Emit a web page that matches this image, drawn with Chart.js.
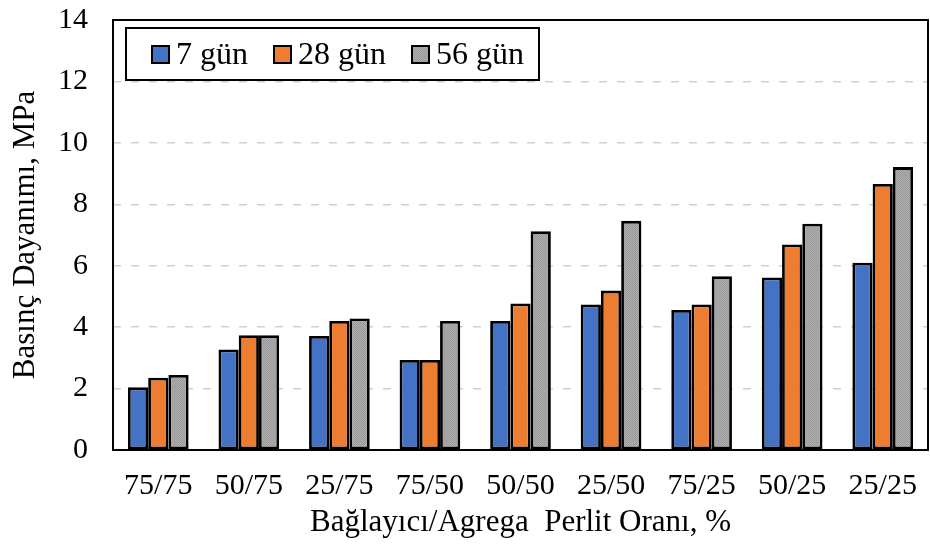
<!DOCTYPE html>
<html>
<head>
<meta charset="utf-8">
<script src="https://cdn.jsdelivr.net/npm/chart.js@4.4.0/dist/chart.umd.min.js"></script>
<style>
  html, body { margin: 0; padding: 0; background: #fff; }
  #wrap { width: 930px; height: 556px; }
</style>
</head>
<body>
<div id="wrap"><canvas id="chart" width="930" height="556"></canvas></div>
<script>
// values (MPa)
const categories = ['75/75', '50/75', '25/75', '75/50', '50/50', '25/50', '75/25', '50/25', '25/25'];
const gun7  = [2.04, 3.27, 3.71, 2.93, 4.20, 4.74, 4.56, 5.62, 6.10];
const gun28 = [2.35, 3.74, 4.20, 2.93, 4.77, 5.19, 4.74, 6.69, 8.66];
const gun56 = [2.44, 3.74, 4.28, 4.20, 7.12, 7.46, 5.66, 7.37, 9.21];
const seriesNames = ['7 gün', '28 gün', '56 gün'];
const yMin = 0, yMax = 14, yStep = 2;

const FONT = "'Liberation Serif', 'Times New Roman', serif";

// gray bars have a fine stipple texture in the reference
function grayPattern() {
    const c = document.createElement('canvas');
    c.width = 2; c.height = 2;
    const g = c.getContext('2d');
    g.fillStyle = '#acacac'; g.fillRect(0, 0, 2, 2);
    g.fillStyle = '#9c9c9c'; g.fillRect(0, 0, 1, 1); g.fillRect(1, 1, 1, 1);
    return g.createPattern(c, 'repeat');
}

// black frame around the plot area
const frame = {
    id: 'frame',
    afterDatasetsDraw(chart) {
        const a = chart.chartArea, ctx = chart.ctx;
        ctx.save();
        ctx.strokeStyle = '#000';
        ctx.lineWidth = 2;
        ctx.strokeRect(a.left, a.top, a.right - a.left, a.bottom - a.top);
        ctx.restore();
    }
};

// boxed legend sitting inside the plot
const boxLegend = {
    id: 'boxLegend',
    afterDraw(chart) {
        const ctx = chart.ctx;
        const bx = 126, by = 28, bw = 413, bh = 52;
        ctx.save();
        ctx.fillStyle = '#fff';
        ctx.fillRect(bx, by, bw, bh);
        ctx.strokeStyle = '#000';
        ctx.lineWidth = 2;
        ctx.strokeRect(bx, by, bw, bh);
        ctx.font = '32px ' + FONT;
        ctx.textBaseline = 'alphabetic';
        let x = bx + 26;
        chart.data.datasets.forEach(ds => {
            ctx.fillStyle = ds.backgroundColor;
            ctx.fillRect(x, 46, 17, 17);
            ctx.lineWidth = 2;
            ctx.strokeRect(x, 46, 17, 17);
            ctx.fillStyle = '#000';
            ctx.fillText(ds.label, x + 24, 64);
            x += 24 + ctx.measureText(ds.label).width + 26;
        });
        ctx.restore();
    }
};

const ctx = document.getElementById('chart').getContext('2d');
new Chart(ctx, {
    type: 'bar',
    data: {
        labels: categories,
        datasets: [
            { label: seriesNames[0], data: gun7,  backgroundColor: '#4472c4' },
            { label: seriesNames[1], data: gun28, backgroundColor: '#ed7d31' },
            { label: seriesNames[2], data: gun56, backgroundColor: grayPattern() }
        ].map(d => Object.assign(d, {
            borderColor: '#000',
            borderWidth: 2.8,
            borderSkipped: false,
            categoryPercentage: 0.67,
            barPercentage: 1.0
        }))
    },
    options: {
        responsive: false,
        animation: false,
        devicePixelRatio: 1,
        layout: { padding: { top: 20, right: 2, left: 0, bottom: 0 } },
        plugins: {
            legend: { display: false },
            tooltip: { enabled: false }
        },
        scales: {
            x: {
                grid: { display: false, drawTicks: false },
                border: { display: false },
                ticks: {
                    color: '#000',
                    font: { family: FONT, size: 30 },
                    padding: 18
                },
                title: {
                    display: true,
                    text: 'Bağlayıcı/Agrega  Perlit Oranı, %',
                    color: '#000',
                    font: { family: FONT, size: 31 },
                    padding: { top: 2, bottom: 15 }
                },
                afterFit(s) {
                    s.height = 106;
                    s.paddingLeft = 0; s.paddingRight = 0;
                }
            },
            y: {
                min: yMin,
                max: yMax,
                ticks: {
                    stepSize: yStep,
                    color: '#000',
                    font: { family: FONT, size: 30 },
                    padding: 25
                },
                grid: {
                    drawTicks: false,
                    color: '#d0d0d0',
                    lineWidth: 1.5
                },
                border: { display: false, dash: [8, 10] },
                title: {
                    display: true,
                    text: 'Basınç Dayanımı, MPa',
                    color: '#000',
                    font: { family: FONT, size: 31 },
                    padding: { top: 7, bottom: 0 }
                },
                afterFit(s) {
                    s.width = 113;
                    s.paddingTop = 0; s.paddingBottom = 0;
                }
            }
        }
    },
    plugins: [frame, boxLegend]
});
</script>
</body>
</html>
